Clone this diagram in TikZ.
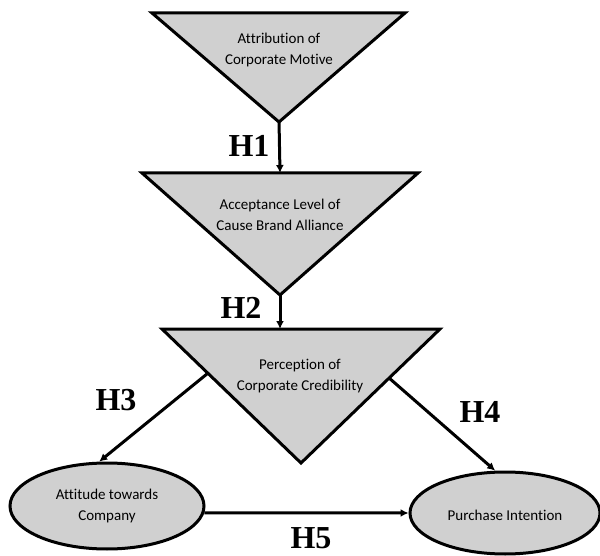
\documentclass[tikz,border=0pt]{standalone}
\usepackage{fontspec}
\setmainfont{Carlito}[Ligatures=NoCommon]
\newfontfamily\hfont{Liberation Serif}
\usetikzlibrary{arrows.meta,shapes.geometric,calc}
\definecolor{boxgray}{RGB}{208,208,208}
\tikzset{
  shapebox/.style={draw=black, fill=boxgray, line width=3pt, line join=miter},
  lbl/.style={align=center, font=\fontsize{15}{21}\selectfont, inner sep=0pt},
  hyp/.style={font=\hfont\bfseries\fontsize{32}{32}\selectfont, inner sep=0pt},
  conn/.style={line width=3pt, -{Latex[length=8pt,width=8pt]}},
  oval/.style={ellipse, shapebox, inner sep=0pt}
}
\begin{document}
\begin{tikzpicture}[x=1pt,y=-1pt]
\useasboundingbox (0,0) rectangle (600,556);
% triangle 1
\coordinate (t1l) at (152,13);
\coordinate (t1r) at (405,13);
\coordinate (t1a) at (279,122);
\draw[shapebox] (t1l) -- (t1r) -- (t1a) -- cycle;
\node[lbl] (n1) at (279,50) {Attribution of\\Corporate Motive};
% triangle 2
\coordinate (t2l) at (142,173);
\coordinate (t2r) at (418,173);
\coordinate (t2a) at (280,295);
\coordinate (t2t) at (280,173);
\draw[shapebox] (t2l) -- (t2r) -- (t2a) -- cycle;
\node[lbl] (n2) at (280,215) {Acceptance Level of\\Cause Brand Alliance};
% triangle 3
\coordinate (t3l) at (162,329);
\coordinate (t3r) at (440,329);
\coordinate (t3a) at (301,463);
\coordinate (t3t) at (280,329);
\draw[shapebox] (t3l) -- (t3r) -- (t3a) -- cycle;
\node[lbl] (n3) at (300,376) {Perception of\\Corporate Credibility};
% ellipses
\node[oval, minimum width=194pt, minimum height=86pt] (e1) at (107,506) {};
\node[lbl] (e1t) at (107,506) {Attitude towards\\Company};
\node[oval, minimum width=190pt, minimum height=82pt] (e2) at (505,513) {};
\node[lbl] (e2t) at (505,515) {Purchase Intention};
% connectors
\coordinate (t1b) at ($(t1a)+(0,-1.5)$);
\draw[conn] (t1b) -- (t2t);
\coordinate (t2b) at ($(t2a)+(0,-1.5)$);
\draw[conn] (t2b) -- (t3t);
\coordinate (h3s) at ($(t3l)!0.33!(t3a)$);
\draw[conn] (h3s) -- (e1.100);
\coordinate (h4s) at ($(t3r)!0.366!(t3a)$);
\draw[conn] (h4s) -- (e2.103);
\draw[conn] (e1.-4) -- (e2.west);
% labels
\node[hyp] (h1) at (249,146) {H1};
\node[hyp] (h2) at (241,308) {H2};
\node[hyp] (h3) at (116,400) {H3};
\node[hyp] (h4) at (480,412) {H4};
\node[hyp] (h5) at (311,538) {H5};
\end{tikzpicture}
\end{document}
